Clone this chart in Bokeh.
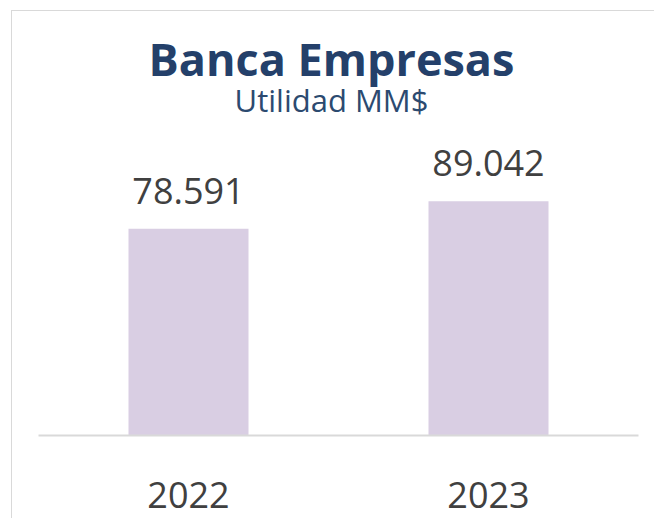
from bokeh.plotting import figure
from bokeh.models import Label, Range1d, ColumnDataSource
from bokeh.core.properties import value
from bokeh.embed import file_html
from bokeh.resources import INLINE

years = ["2022", "2023"]
utilidad = [78591, 89042]
labels = ["78.591", "89.042"]
title_text = "Banca Empresas"
subtitle_text = "Utilidad MM$"

src = ColumnDataSource(dict(x=years, top=utilidad, lab=labels))

p = figure(width=654, height=518, x_range=years, y_range=Range1d(0, 161500),
           output_backend="svg", toolbar_location=None,
           min_border_left=38, min_border_right=16, min_border_top=10, min_border_bottom=83)
p.x_range.range_padding = 0
p.outline_line_color = None
p.grid.visible = False
p.yaxis.visible = False
p.background_fill_color = None
p.border_fill_color = None
# light gray card border (top and left edges) drawn behind the transparent canvas
p.styles = {
    "background-color": "white",
    "background-image": "linear-gradient(#d9d9d9, #d9d9d9), linear-gradient(#d9d9d9, #d9d9d9)",
    "background-position": "11px 10px, 11px 10px",
    "background-size": "1px 100%, 100% 1px",
    "background-repeat": "no-repeat",
}

ax = p.xaxis[0]
ax.axis_line_color = "#d9d9d9"
ax.axis_line_width = 2
ax.major_tick_line_color = None
ax.minor_tick_line_color = None
ax.major_tick_out = 0
ax.major_tick_in = 0
ax.major_label_text_font = "Open Sans"
ax.major_label_text_font_size = "36px"
ax.major_label_text_color = "#404040"
ax.major_label_standoff = 46

p.vbar(x="x", top="top", width=0.4, source=src, fill_color="#d9cee3", line_color=None)
p.text(x="x", y="top", text="lab", source=src, text_align="center", text_baseline="alphabetic",
       y_offset=-38, text_font=value("Open Sans"), text_font_size="36px", text_color="#404040")

p.add_layout(Label(x=293, y=377, x_units="screen", y_units="screen", text=title_text,
                   text_align="center", text_baseline="alphabetic", text_font="Open Sans",
                   text_font_style="bold", text_font_size="45px", text_color="#24406a"))
p.add_layout(Label(x=293, y=336, x_units="screen", y_units="screen", text=subtitle_text,
                   text_align="center", text_baseline="alphabetic", text_font="Open Sans",
                   text_font_size="31px", text_color="#2c4a70"))

open("out.html", "w").write(file_html(p, INLINE))
